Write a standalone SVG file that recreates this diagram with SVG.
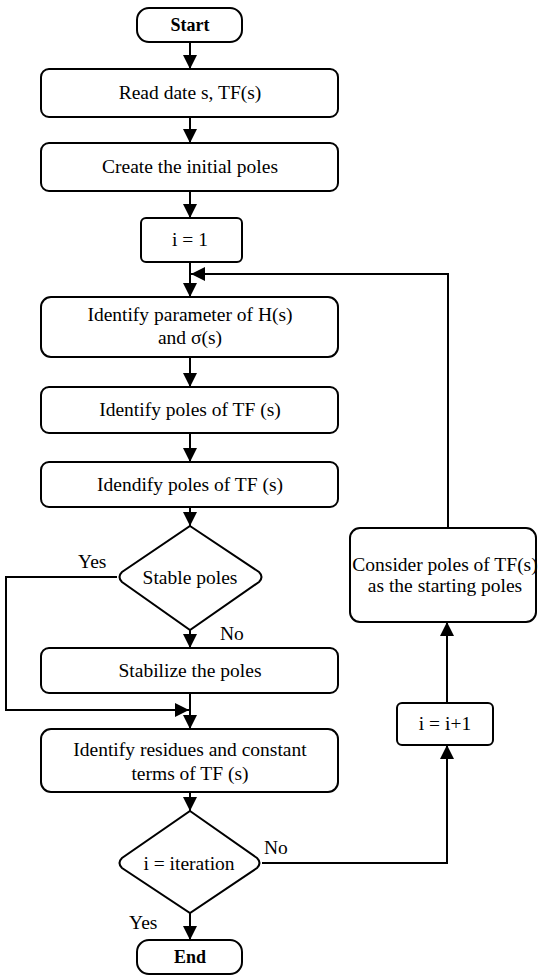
<svg xmlns="http://www.w3.org/2000/svg" width="538" height="976" viewBox="0 0 538 976">
<defs>
<marker id="ah" markerWidth="14" markerHeight="14" viewBox="0 0 14 14" refX="14" refY="7" orient="auto" markerUnits="userSpaceOnUse">
<path d="M0,0 L14,7 L0,14 Z" fill="#000"/>
</marker>
</defs>
<style>
.b{fill:#fff;stroke:#000;stroke-width:2}
.t{font-family:"Liberation Serif","Times New Roman",serif;font-size:19.5px;fill:#000;text-anchor:middle}
.bo{font-weight:bold;font-size:18px}
.c{fill:none;stroke:#000;stroke-width:2}
.l{font-family:"Liberation Serif","Times New Roman",serif;font-size:19.5px;fill:#000}
</style>
<g id="connectors">
<path class="c" d="M190,42 V69" marker-end="url(#ah)"/>
<path class="c" d="M190,117 V143" marker-end="url(#ah)"/>
<path class="c" d="M190,191 V218" marker-end="url(#ah)"/>
<path class="c" d="M190,262 V297" marker-end="url(#ah)"/>
<path class="c" d="M190,357 V387" marker-end="url(#ah)"/>
<path class="c" d="M190,433 V462" marker-end="url(#ah)"/>
<path class="c" d="M190,507 V526" marker-end="url(#ah)"/>
<path class="c" d="M190,630 V648" marker-end="url(#ah)"/>
<path class="c" d="M190,693 V729" marker-end="url(#ah)"/>
<path class="c" d="M117,577 H6 V710 H189" marker-end="url(#ah)"/>
<path class="c" d="M190,792 V811" marker-end="url(#ah)"/>
<path class="c" d="M190,913 V940" marker-end="url(#ah)"/>
<path class="c" d="M262,863 H447 V745" marker-end="url(#ah)"/>
<path class="c" d="M447,703 V622" marker-end="url(#ah)"/>
<path class="c" d="M448,528 V274 H191" marker-end="url(#ah)"/>
<text class="l" x="78" y="568">Yes</text>
<text class="l" x="220" y="640">No</text>
<text class="l" x="264" y="854">No</text>
<text class="l" x="129" y="929">Yes</text>
</g>
<g id="start"><rect class="b" x="137" y="8" width="105" height="34" rx="12"/><text class="t bo" x="190" y="31">Start</text></g>
<g id="read"><rect class="b" x="41" y="69" width="297" height="48" rx="8"/><text class="t" x="190" y="99">Read date s, TF(s)</text></g>
<g id="create"><rect class="b" x="41" y="143" width="297" height="48" rx="8"/><text class="t" x="190" y="173">Create the initial poles</text></g>
<g id="i1"><rect class="b" x="141" y="218" width="101" height="44" rx="5"/><text class="t" x="190" y="246">i = 1</text></g>
<g id="identparam"><rect class="b" x="41" y="297" width="297" height="60" rx="10"/><text class="t" x="190" y="321">Identify parameter of H(s)</text><text class="t" x="190" y="344">and σ(s)</text></g>
<g id="identpoles"><rect class="b" x="41" y="387" width="297" height="46" rx="8"/><text class="t" x="190" y="416">Identify poles of TF (s)</text></g>
<g id="idendpoles"><rect class="b" x="41" y="462" width="297" height="45" rx="8"/><text class="t" x="190" y="491">Idendify poles of TF (s)</text></g>
<g id="stable"><path class="b" d="M190,526 L259,572 Q264,577 259,582 L190,630 L122,582 Q117,577 122,572 Z"/><text class="t" x="190" y="584">Stable poles</text></g>
<g id="stabilize"><rect class="b" x="41" y="648" width="297" height="45" rx="8"/><text class="t" x="190" y="677">Stabilize the poles</text></g>
<g id="residues"><rect class="b" x="41" y="729" width="297" height="63" rx="10"/><text class="t" x="190" y="756">Identify residues and constant</text><text class="t" x="190" y="780">terms of TF (s)</text></g>
<g id="iteration"><path class="b" d="M190,811 L257,858 Q262,863 257,868 L190,913 L122,868 Q117,863 122,858 Z"/><text class="t" x="189" y="870">i = iteration</text></g>
<g id="end"><rect class="b" x="137" y="940" width="105" height="34" rx="12"/><text class="t bo" x="190" y="963">End</text></g>
<g id="inc"><rect class="b" x="397" y="703" width="96" height="42" rx="5"/><text class="t" x="445" y="730">i = i+1</text></g>
<g id="consider"><rect class="b" x="350" y="528" width="186" height="94" rx="10"/><text class="t" x="445" y="571">Consider poles of TF(s)</text><text class="t" x="445" y="592">as the starting poles</text></g>
</svg>
